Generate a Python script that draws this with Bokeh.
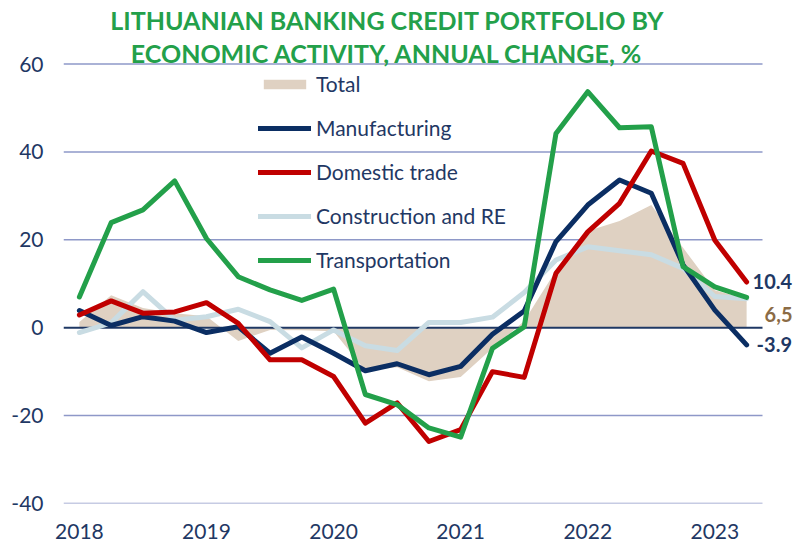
from bokeh.plotting import figure
from bokeh.models import Range1d, FixedTicker, Label, Legend, LegendItem, ColumnDataSource
from bokeh.embed import file_html
from bokeh.resources import INLINE

# ---- data (quarterly, 2018Q1 .. 2023Q2) ----
year_labels = ["2018", "2019", "2020", "2021", "2022", "2023"]
quarter_index = list(range(22))
total = [1.3, 7.4, 4.5, 3.3, 2.6, -3.0, -0.5, -0.6, -0.8, -9.8, -9.0, -12.2,
         -11.2, -4.7, 1.5, 13.0, 22.0, 24.3, 27.9, 18.2, 8.5, 6.5]
manufacturing = [3.9, 0.5, 2.5, 1.5, -1.1, 0.2, -5.8, -2.1, -5.8, -9.8, -8.2, -10.7,
                 -8.8, -1.5, 3.8, 19.6, 27.9, 33.6, 30.6, 14.3, 4.0, -3.9]
domestic_trade = [2.9, 6.1, 3.3, 3.6, 5.7, 1.0, -7.3, -7.3, -11.1, -21.7, -17.1, -25.9,
                  -23.2, -10.0, -11.3, 12.4, 21.8, 28.3, 40.2, 37.4, 19.9, 10.4]
construction_re = [-1.1, 1.1, 8.2, 1.7, 2.5, 4.2, 1.4, -4.6, -0.5, -4.1, -5.2, 1.2,
                   1.2, 2.4, 8.0, 15.4, 18.4, 17.5, 16.6, 13.5, 7.1, 6.6]
transportation = [7.0, 23.9, 26.8, 33.4, 20.3, 11.6, 8.6, 6.2, 8.8, -15.2, -17.5, -22.8,
                  -24.9, -4.7, 0.2, 44.2, 53.7, 45.5, 45.7, 13.9, 9.3, 6.9]
y_ticks = [-40, -20, 0, 20, 40, 60]
y_tick_labels = ["-40", "-20", "0", "20", "40", "60"]
end_label_texts = ["10.4", "6,5", "-3.9"]
end_label_values = [domestic_trade[-1], total[-1], manufacturing[-1]]
title_lines = ["LITHUANIAN BANKING CREDIT PORTFOLIO BY",
               "ECONOMIC ACTIVITY, ANNUAL CHANGE, %"]

# ---- styles ----
FONT = "Lato"
NAVY = "#1F3864"
C_TOTAL = "#DFD1C2"
C_MANU = "#0B2E63"
C_TRADE = "#C00000"
C_CONS = "#C9DCE3"
C_TRANS = "#23A04A"
C_TOTAL_TXT = "#8B6B45"
GRID = "#8E98C8"

x_lo = quarter_index[0] - 0.5
x_hi = quarter_index[-1] + 0.5

src = ColumnDataSource(dict(x=quarter_index, total=total, zero=[0] * len(total),
                            manu=manufacturing, trade=domestic_trade,
                            cons=construction_re, trans=transportation))

# frame extended to the right and top so that title / end labels live inside it
p = figure(width=796, height=548, x_range=Range1d(x_lo, 22.57), y_range=Range1d(-40, 74.45),
           output_backend="svg", toolbar_location=None,
           min_border_left=63, min_border_right=0, min_border_top=0, min_border_bottom=45,
           background_fill_color="white", border_fill_color="white", outline_line_color=None)

p.xgrid.grid_line_color = None
p.ygrid.grid_line_color = None

for ax in (p.xaxis[0], p.yaxis[0]):
    ax.axis_line_color = None
    ax.major_tick_line_color = None
    ax.minor_tick_line_color = None
    ax.major_tick_out = 0
    ax.major_tick_in = 0
    ax.major_label_text_font = FONT
    ax.major_label_text_font_size = "21px"
    ax.major_label_text_color = NAVY

p.yaxis.ticker = FixedTicker(ticks=y_ticks)
p.yaxis.major_label_overrides = {t: s for t, s in zip(y_ticks, y_tick_labels)}
p.yaxis.major_label_standoff = 20
p.xaxis.ticker = FixedTicker(ticks=[4 * i for i in range(len(year_labels))])
p.xaxis.major_label_overrides = {4 * i: y for i, y in enumerate(year_labels)}
p.xaxis.major_label_standoff = 20

# grid lines (behind everything), limited to the category span
grid_vals = [t for t in y_ticks if t != 0]
p.segment(x0=[x_lo] * len(grid_vals), x1=[x_hi] * len(grid_vals), y0=grid_vals, y1=grid_vals,
          line_color=GRID, line_width=1.5)

r_total = p.varea(x="x", y1="zero", y2="total", source=src, fill_color=C_TOTAL)
p.segment(x0=[x_lo], x1=[x_hi], y0=[0], y1=[0], line_color=NAVY, line_width=2)

kw = dict(source=src, line_width=5, line_join="round", line_cap="round")
r_cons = p.line("x", "cons", line_color=C_CONS, **kw)
r_manu = p.line("x", "manu", line_color=C_MANU, **kw)
r_trade = p.line("x", "trade", line_color=C_TRADE, **kw)
r_trans = p.line("x", "trans", line_color=C_TRANS, **kw)

legend = Legend(items=[
    LegendItem(label="Total", renderers=[r_total]),
    LegendItem(label="Manufacturing", renderers=[r_manu]),
    LegendItem(label="Domestic trade", renderers=[r_trade]),
    LegendItem(label="Construction and RE", renderers=[r_cons]),
    LegendItem(label="Transportation", renderers=[r_trans]),
], location=(195, 231), orientation="vertical",
    glyph_width=53, glyph_height=12, label_height=20, spacing=19,
    label_standoff=5, padding=0, margin=0,
    label_text_font=FONT, label_text_font_size="21px", label_text_color=NAVY,
    background_fill_alpha=0, border_line_color=None)
p.add_layout(legend)

# end-of-series value labels
label_colors = [NAVY, C_TOTAL_TXT, NAVY]
label_xoff = [6, 18, 10]
label_yoff = [0, -15, 0]
for txt, val, col, xo, yo in zip(end_label_texts, end_label_values, label_colors, label_xoff, label_yoff):
    p.add_layout(Label(x=quarter_index[-1], y=val, text=txt, x_offset=xo, y_offset=yo,
                       text_font=FONT, text_font_style="bold", text_font_size="20px",
                       text_color=col, text_baseline="middle", text_align="left"))

# two-line title
for line, yv in zip(title_lines, [70.1, 62.6]):
    p.add_layout(Label(x=9.69, y=yv, text=line, text_align="center", text_baseline="alphabetic",
                       text_font=FONT, text_font_style="bold", text_font_size="25px",
                       text_color=C_TRANS))

open("out.html", "w").write(file_html(p, INLINE))
